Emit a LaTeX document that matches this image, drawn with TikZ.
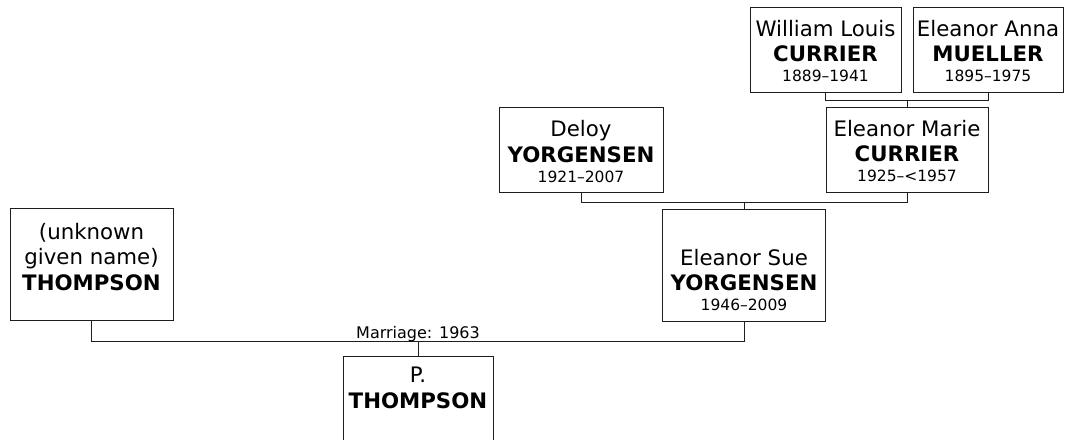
\documentclass[tikz,border=0pt]{standalone}
\usepackage{fontspec}
\setmainfont{DejaVu Sans}
\definecolor{boxline}{HTML}{1E1E1E}
\definecolor{nameink}{HTML}{000000}
\usetikzlibrary{positioning}
\newcommand{\datesize}{\fontsize{15.5}{19}\selectfont}

\begin{document}
\begin{tikzpicture}[x=1pt,y=-1pt,
    personbox/.style={draw=boxline,line width=1pt,fill=white,inner sep=0pt,minimum height=85pt},
    tallbox/.style={personbox,minimum height=112pt},
    nametext/.style={align=center,inner sep=0pt,text=nameink,font=\fontsize{21.3}{25.5}\selectfont},
    tie/.style={draw=boxline,line width=1pt}]
  \clip (0,0) rectangle (1070,439);
  \fill[white] (0,0) rectangle (1070,439);

  \node[personbox,minimum width=151pt] (wlc) at (825.5,49.5) {};
  \node[personbox,minimum width=150pt] (eam) at (988,49.5) {};
  \node[personbox,minimum width=162pt] (emc) at (907,149.5) {};
  \node[personbox,minimum width=164pt] (dyo) at (581,150) {};
  \node[tallbox,minimum width=163pt] (esy) at (744,265) {};
  \node[tallbox,minimum width=163pt] (uth) at (91.5,264) {};
  \node[tallbox,minimum width=150pt] (pth) at (418,412) {};

  \node[nametext,above=10.5pt of wlc.south] (wlc-t) {William Louis\\\textbf{CURRIER}\\[-5.5pt]{\datesize 1889–1941}};
  \node[nametext,above=10.5pt of eam.south] (eam-t) {Eleanor Anna\\\textbf{MUELLER}\\[-5.5pt]{\datesize 1895–1975}};
  \node[nametext,above=10.5pt of emc.south] (emc-t) {Eleanor Marie\\\textbf{CURRIER}\\[-5.5pt]{\datesize 1925–<1957}};
  \node[nametext,above=10.5pt of dyo.south] (dyo-t) {Deloy\\\textbf{YORGENSEN}\\[-5.5pt]{\datesize 1921–2007}};
  \node[nametext,above=10.5pt of esy.south] (esy-t) {Eleanor Sue\\\textbf{YORGENSEN}\\[-5.5pt]{\datesize 1946–2009}};
  \node[nametext,above=30pt of uth.south] (uth-t) {(unknown\\given name)\\\textbf{THOMPSON}};
  \node[nametext,above=60pt of pth.south] (pth-t) {P.\\\textbf{THOMPSON}};

  \coordinate (bar1) at (907,100.5);
  \coordinate (bar2) at (744,202.5);
  \coordinate (bar3) at (418,341.5);
  \draw[tie] (wlc.south) |- (bar1) -| (eam.south);
  \draw[tie] (bar1) -- (emc.north);
  \draw[tie] (dyo.south) |- (bar2) -| (emc.south);
  \draw[tie] (bar2) -- (esy.north);
  \draw[tie] (uth.south) |- (bar3) -| (esy.south);
  \draw[tie] (bar3) -- (pth.north);
  \node[anchor=base,inner sep=0pt,text=nameink,font=\fontsize{16}{19}\selectfont] (wed) at (418,338) {Marriage: 1963};
\end{tikzpicture}
\end{document}
